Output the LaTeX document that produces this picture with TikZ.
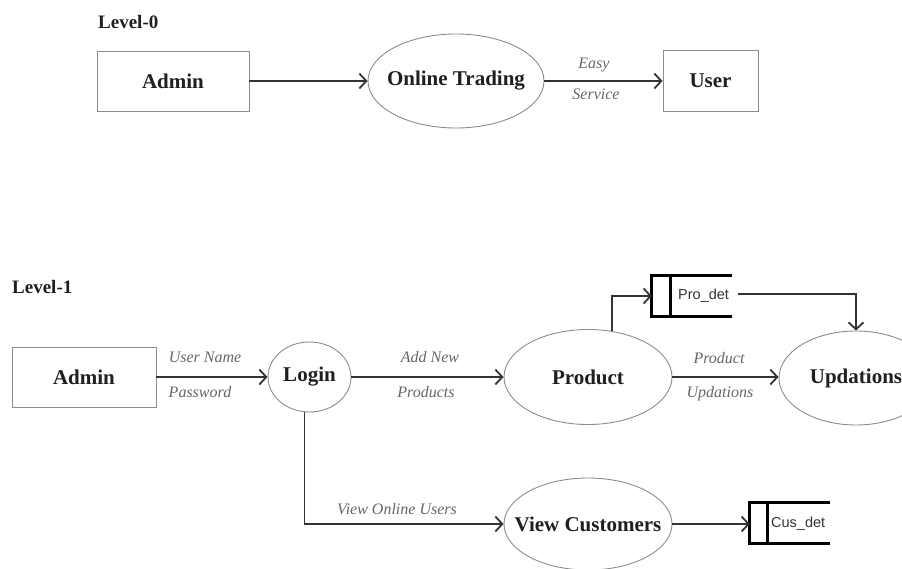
\documentclass[tikz,border=0pt]{standalone}
\usepackage{fontspec}
\setmainfont{Liberation Serif}
\newfontfamily\storefont{Liberation Sans}
\usetikzlibrary{arrows.meta,shapes.geometric}
\begin{document}
\begin{tikzpicture}[x=1pt,y=-1pt,
  pfont/.style={inner sep=0pt,text=black!88,font=\bfseries\fontsize{21}{24}\selectfont},
  proc/.style={ellipse,draw=black!45,line width=0.9pt,inner sep=0pt,
    label={[pfont]center:#1}},
  ent/.style={rectangle,draw=black!45,line width=0.9pt,inner sep=0pt,text=black!88,
    font=\bfseries\fontsize{21}{24}\selectfont},
  flow/.style={draw=black!80,line width=1.8pt,
    -{Straight Barb[length=7pt,width=15pt,line width=1.8pt]}},
  lab/.style={font=\itshape\fontsize{16}{18}\selectfont,text=black!60,inner sep=0pt},
  lvl/.style={font=\bfseries\fontsize{19}{21}\selectfont,text=black!88,inner sep=0pt},
  storebox/.style={rectangle,draw=none,minimum width=80pt,minimum height=40pt,inner sep=0pt},
  storeline/.style={draw=black,line width=3pt,line cap=butt,line join=miter},
  storetxt/.style={font=\storefont\fontsize{14.5}{16}\selectfont,text=black!80,inner sep=1pt,anchor=west}
]
\useasboundingbox (0,0) rectangle (902,569);

% ---------- Level 0 ----------
\node[lvl,anchor=west] (l0) at (98,22) {Level-0};
\node[ent,minimum width=152pt,minimum height=60pt] (admin0) at (173,81) {Admin};
\node[proc=Online Trading,minimum width=176pt,minimum height=94pt] (ot) at (456,81) {};
\node[ent,minimum width=95pt,minimum height=61pt] (user) at (710.5,81) {User};
\draw[flow] (admin0.east) -- (ot.west);
\draw[flow] (ot.east) -- (user.west);
\node[lab] (easy) at (594,65) {Easy};
\node[lab] (serv) at (596,94) {Service};

% ---------- Level 1 ----------
\node[lvl,anchor=west] (l1) at (12,287) {Level-1};
\node[ent,minimum width=144pt,minimum height=60pt] (admin1) at (84,377) {Admin};
\node[proc=Login,minimum width=83pt,minimum height=70pt] (login) at (309.5,377) {};
\node[proc=Product,minimum width=168pt,minimum height=95pt] (prod) at (588,377) {};
\node[proc=Updations,minimum width=154pt,minimum height=94pt] (upd) at (856,378) {};
\node[proc=View Customers,minimum width=168pt,minimum height=92pt] (vc) at (588,524) {};

\draw[flow] (admin1.east) -- (login.west);
\node[lab] (un) at (205,357) {User Name};
\node[lab] (pw) at (200,392) {Password};

\draw[flow] (login.east) -- (prod.west);
\node[lab] (an) at (430,357) {Add New};
\node[lab] (pr) at (426,392) {Products};

\draw[flow] (prod.east) -- (prod.east -| upd.west);
\node[lab] (pu1) at (719,358) {Product};
\node[lab] (pu2) at (720,394) {Updations};

% data store Pro_det
\node[storebox] (prodet) at (692,296) {};
\draw[storeline] (prodet.north east) -- (prodet.north west) -- (prodet.south west) -- (prodet.south east);
\draw[storeline] ([xshift=19pt]prodet.north west) -- ([xshift=19pt]prodet.south west);
\node[storetxt] (protxt) at (677,296) {Pro\_det};

\draw[flow] ([xshift=24pt,yshift=-2pt]prod.north) |- (prodet.west);
\draw[flow] ([xshift=8pt,yshift=2pt]protxt.east) -| (upd.north);

% login -> view customers
\draw[flow] ([xshift=-5pt,yshift=0.5pt]login.south) |- (vc.west);
\node[lab] (vou) at (397,509) {View Online Users};

% data store Cus_det
\node[storebox] (cusdet) at (790,523) {};
\draw[storeline] (cusdet.north east) -- (cusdet.north west) -- (cusdet.south west) -- (cusdet.south east);
\draw[storeline] ([xshift=18pt]cusdet.north west) -- ([xshift=18pt]cusdet.south west);
\node[storetxt] (custxt) at (770,524) {Cus\_det};

\draw[flow] (vc.east) -- (vc.east -| cusdet.west);
\end{tikzpicture}
\end{document}
